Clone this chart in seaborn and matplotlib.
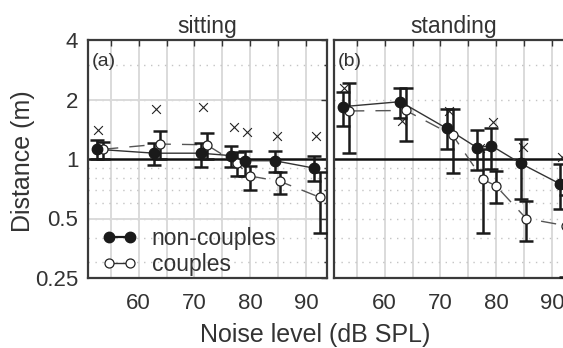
import numpy as np
import pandas as pd
import matplotlib.pyplot as plt
import seaborn as sns
from matplotlib.lines import Line2D
from matplotlib.ticker import FixedLocator, NullFormatter, NullLocator

# noise levels (dB SPL) of the two groups and of the cross markers
noise_nc = [52.5, 62.8, 71.1, 76.6, 79.1, 84.4, 91.4]
noise_c = [53.6, 63.8, 72.2, 77.6, 80.0, 85.4, 92.5]
noise_x = [52.7, 63.1, 71.6, 77.1, 79.5, 84.9, 91.8]

# sitting
sit_nc = [1.12, 1.07, 1.07, 1.04, 0.98, 0.98, 0.90]
sit_nc_lo = [1.00, 0.93, 0.91, 0.91, 0.82, 0.86, 0.77]
sit_nc_hi = [1.25, 1.21, 1.20, 1.17, 1.10, 1.10, 1.03]
sit_c = [1.12, 1.19, 1.18, 0.95, 0.82, 0.77, 0.64]
sit_c_lo = [1.00, 1.00, 1.00, 0.82, 0.70, 0.665, 0.42]
sit_c_hi = [1.22, 1.39, 1.35, 1.08, 0.92, 0.86, 0.86]
sit_x = [1.41, 1.80, 1.83, 1.45, 1.37, 1.30, 1.30]

# standing
std_nc = [1.84, 1.95, 1.43, 1.14, 1.17, 0.95, 0.75]
std_nc_lo = [1.47, 1.62, 1.13, 0.88, 0.89, 0.63, 0.56]
std_nc_hi = [2.19, 2.28, 1.79, 1.40, 1.44, 1.26, 0.94]
std_c = [1.75, 1.76, 1.32, 0.79, 0.73, 0.50, 0.46]
std_c_lo = [1.07, 1.24, 0.85, 0.42, 0.60, 0.385, 0.254]
std_c_hi = [2.43, 2.30, 1.79, 1.12, 0.87, 0.61, 0.66]
std_x = [2.28, 1.56, 1.74, 1.14, 1.54, 1.15, 1.02]

PANELS = [
    ("sitting", "(a)", sit_nc, sit_nc_lo, sit_nc_hi, sit_c, sit_c_lo, sit_c_hi, sit_x),
    ("standing", "(b)", std_nc, std_nc_lo, std_nc_hi, std_c, std_c_lo, std_c_hi, std_x),
]

X_TICKS = [55, 60, 65, 70, 75, 80, 85, 90]
X_LABELS = ["", "60", "", "70", "", "80", "", "90"]
Y_TICKS = [0.25, 0.5, 1, 2, 4]
Y_LABELS = ["0.25", "0.5", "1", "2", "4"]
Y_MINOR = [0.3, 0.4, 0.5, 0.6, 0.7, 0.8, 0.9, 2, 3]

TEXT = "#333333"
GRID = "#dadada"


def draw_panel(ax, panel, first):
    title, tag, nc, nc_lo, nc_hi, c, c_lo, c_hi, xs = panel
    df_nc = pd.DataFrame({"noise": noise_nc, "dist": nc, "lo": nc_lo, "hi": nc_hi})
    df_c = pd.DataFrame({"noise": noise_c, "dist": c, "lo": c_lo, "hi": c_hi})
    df_x = pd.DataFrame({"noise": noise_x, "dist": xs})

    ax.set_yscale("log", base=2)
    ax.set_xlim(50.9, 93.8)
    ax.set_ylim(0.25, 4)

    # grid
    for v in X_TICKS:
        ax.axvline(v, color=GRID, lw=1.4, zorder=0)
    for v in Y_MINOR:
        ax.axhline(v, color="#c4c4c4", lw=1.0, ls=(0, (1, 4)), zorder=0)
    if first:
        for v in [0.5, 2]:
            ax.axhline(v, color=GRID, lw=1.4, zorder=0)
    ax.axhline(1, color="#111111", lw=1.8, zorder=1)

    sns.scatterplot(data=df_x, x="noise", y="dist", ax=ax, marker="x", s=40,
                    color="#222222", linewidth=0.8, zorder=2, legend=False)

    sns.lineplot(data=df_c, x="noise", y="dist", ax=ax, color="#555555", lw=1.0,
                 linestyle=(0, (11, 8)), zorder=2)
    sns.lineplot(data=df_nc, x="noise", y="dist", ax=ax, color="#333333", lw=1.0,
                 zorder=2)

    for df in (df_nc, df_c):
        yerr = np.vstack([df["dist"] - df["lo"], df["hi"] - df["dist"]])
        ax.errorbar(df["noise"], df["dist"], yerr=yerr, fmt="none", ecolor="#1a1a1a",
                    elinewidth=1.8, capsize=5, capthick=1.8, zorder=3)

    ax.plot(df_c["noise"], df_c["dist"], "o", ms=6.5, mfc="white", mec="#222222",
            mew=0.9, zorder=4, ls="none")
    ax.plot(df_nc["noise"], df_nc["dist"], "o", ms=7.5, mfc="#1a1a1a", mec="#1a1a1a",
            zorder=5, ls="none")

    ax.set_title(title, fontsize=16.5, color=TEXT, pad=5)
    ax.text(0.016, 0.945, tag, transform=ax.transAxes, fontsize=14, color=TEXT,
            va="top", ha="left")

    ax.xaxis.set_major_locator(FixedLocator(X_TICKS))
    ax.set_xticklabels(X_LABELS)
    if first:
        ax.yaxis.set_major_locator(FixedLocator(Y_TICKS))
        ax.set_yticklabels(Y_LABELS)
        ax.yaxis.set_minor_locator(FixedLocator(Y_MINOR))
        ax.yaxis.set_minor_formatter(NullFormatter())
    else:
        ax.yaxis.set_major_locator(FixedLocator(Y_MINOR))
        ax.yaxis.set_major_formatter(NullFormatter())
        ax.yaxis.set_minor_locator(NullLocator())
    ax.tick_params(axis="both", which="both", direction="in", top=True, right=True,
                   colors="#333333", labelcolor=TEXT, labelsize=16, width=1.0)
    ax.tick_params(axis="x", which="major", length=4, pad=11)
    ax.tick_params(axis="y", which="major", length=4, pad=7)
    ax.tick_params(axis="y", which="minor", length=2.5)
    ax.set_xlabel("")
    ax.set_ylabel("")
    for sp in ax.spines.values():
        sp.set_color("#3a3a3a")
        sp.set_linewidth(1.6)


def main():
    sns.set_theme(style="white")
    plt.rcParams["font.family"] = ["Liberation Sans", "DejaVu Sans"]

    fig = plt.figure(figsize=(5.63, 3.48), dpi=100)
    ax1 = fig.add_axes([88 / 563, 70 / 348, 239 / 563, 238 / 348])
    ax2 = fig.add_axes([334 / 563, 70 / 348, 239 / 563, 238 / 348])

    draw_panel(ax1, PANELS[0], True)
    draw_panel(ax2, PANELS[1], False)

    handles = [
        Line2D([], [], color="#1a1a1a", lw=1.6, marker="o", ms=7.5, mfc="#1a1a1a",
               mec="#1a1a1a"),
        Line2D([], [], color="#333333", lw=1.0, marker="o", ms=6.5, mfc="white",
               mec="#222222", mew=0.9),
    ]
    ax1.legend(handles, ["non-couples", "couples"], loc="lower left",
               bbox_to_anchor=(0.05, 0.0), frameon=False, fontsize=16.5,
               handlelength=1.5, handletextpad=0.65, labelspacing=0.12,
               borderpad=0.1, borderaxespad=0.0, numpoints=2, labelcolor=TEXT)

    fig.text(315 / 563, 6 / 348, "Noise level (dB SPL)", ha="center", va="baseline",
             fontsize=18, color=TEXT)
    fig.text(23 / 563, 0.537, "Distance (m)", ha="center", va="center", rotation=90,
             fontsize=18, color=TEXT)

    fig.savefig("out.png", dpi=100)
    plt.close(fig)


if __name__ == "__main__":
    main()
